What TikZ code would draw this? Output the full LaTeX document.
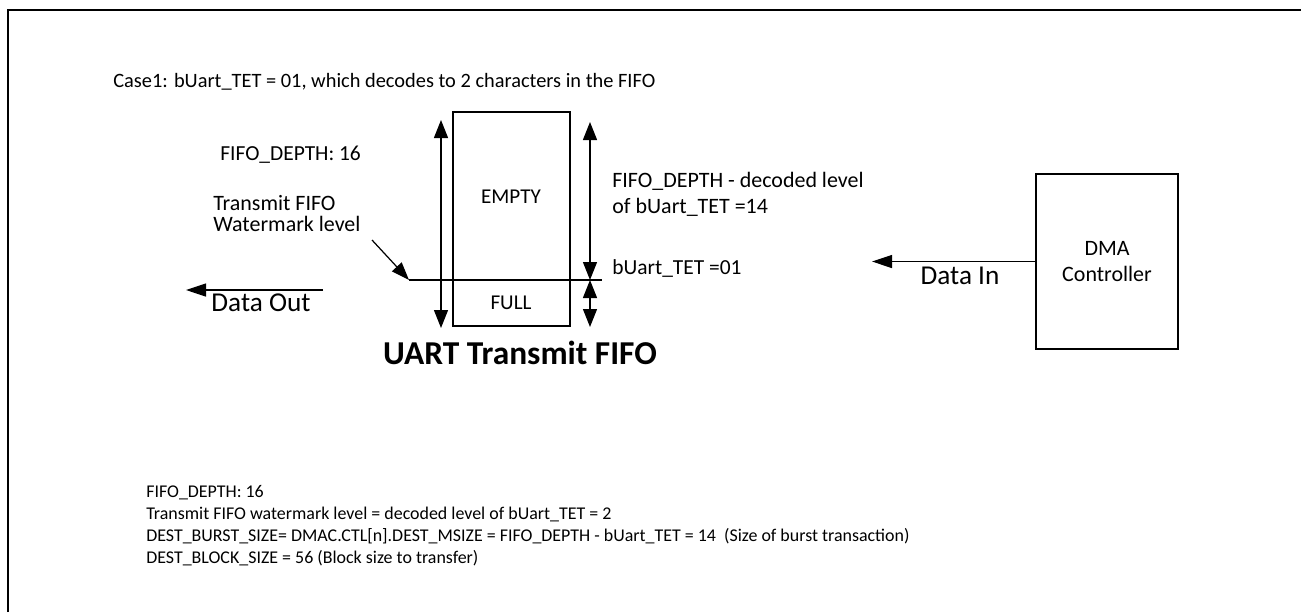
\documentclass[tikz,border=0pt]{standalone}
\usepackage{fontspec}
\setmainfont{Carlito}
\usetikzlibrary{positioning,arrows.meta}

\begin{document}
\begin{tikzpicture}[x=0.2mm,y=-0.2mm,
  txt/.style={font=\fontsize{12.2}{14}\selectfont,inner sep=0pt},
  small/.style={font=\fontsize{12}{14}\selectfont,inner sep=0pt},
  note/.style={font=\fontsize{10.2}{12.5}\selectfont,inner sep=0pt},
  lbl/.style={font=\fontsize{15.5}{18}\selectfont,inner sep=0pt},
  box/.style={draw,line width=0.7pt,inner sep=0pt},
  dim/.style={{Triangle[length=3.6mm,width=2.8mm]}-{Triangle[length=3.6mm,width=2.8mm]},line width=0.7pt},
  flow/.style={-{Triangle[length=4mm,width=2.6mm]},line width=0.7pt},
]
\useasboundingbox (0,0) rectangle (1301,612);
\draw[line width=1.2pt] (8,612) -- (8,10) -- (1301,10);

\node[txt,anchor=west,font=\fontsize{11.6}{14}\selectfont] (case) at (113,82) {Case1: bUart\_TET = 01, which decodes to 2 characters in the FIFO};

% transmit fifo
\node[box,minimum width=23.4mm,minimum height=42.8mm] (fifo) at (511.5,219) {};
\node[small] (empty) at (511,197) {EMPTY};
\node[small] (full) at (511,303) {FULL};
\node[font=\bfseries\fontsize{19}{22}\selectfont,inner sep=0pt] (title) at (520,353) {UART Transmit FIFO};
\coordinate (wml) at (409,280);
\coordinate (wmr) at (602,280);
\draw[line width=0.7pt] (wml) -- (wmr);

% depth arrows
\coordinate (dtop) at (441,120);
\coordinate (dbot) at (441,328);
\draw[dim] (dtop) -- (dbot);
\coordinate (etop) at (590,122);
\coordinate (emid) at (590,280);
\coordinate (ebot) at (590,327);
\draw[dim] (etop) -- (emid);
\draw[dim] (emid) -- (ebot);

\node[txt,anchor=west] (depth) at (220,155) {FIFO\_DEPTH: 16};
\node[txt,anchor=west,align=left,font=\fontsize{12.5}{12}\selectfont] (wmlvl) at (213,213.5) {Transmit FIFO\\Watermark level};
\coordinate (wmtail) at (372,240);
\draw[-{Triangle[length=3.6mm,width=2.6mm]},line width=0.7pt] (wmtail) -- (wml);
\node[txt,anchor=west,align=left,font=\fontsize{12.5}{14.7}\selectfont] (rest) at (612,194) {FIFO\_DEPTH - decoded level\\of bUart\_TET =14};
\node[txt,anchor=west] (tet) at (612,268) {bUart\_TET =01};

% data out
\coordinate (outs) at (323,290);
\coordinate (oute) at (186,290);
\draw[flow] (outs) -- (oute);
\node[lbl] (dout) at (261,303) {Data Out};

% dma
\node[box,minimum width=28.4mm,minimum height=35mm,align=center,font=\fontsize{12.5}{14.7}\selectfont] (dma) at (1107,261.5) {DMA\\Controller};
\coordinate (din) at (872,261.5);
\draw[flow] (dma.west) -- (din);
\node[lbl] (dinl) at (960,276) {Data In};

% notes
\node[note,anchor=west,align=left] (notes) at (146,526) {FIFO\_DEPTH: 16\\Transmit FIFO watermark level = decoded level of bUart\_TET = 2\\DEST\_BURST\_SIZE= DMAC.CTL[n].DEST\_MSIZE = FIFO\_DEPTH - bUart\_TET = 14\ \ (Size of burst transaction)\\DEST\_BLOCK\_SIZE = 56 (Block size to transfer)};
\end{tikzpicture}
\end{document}
